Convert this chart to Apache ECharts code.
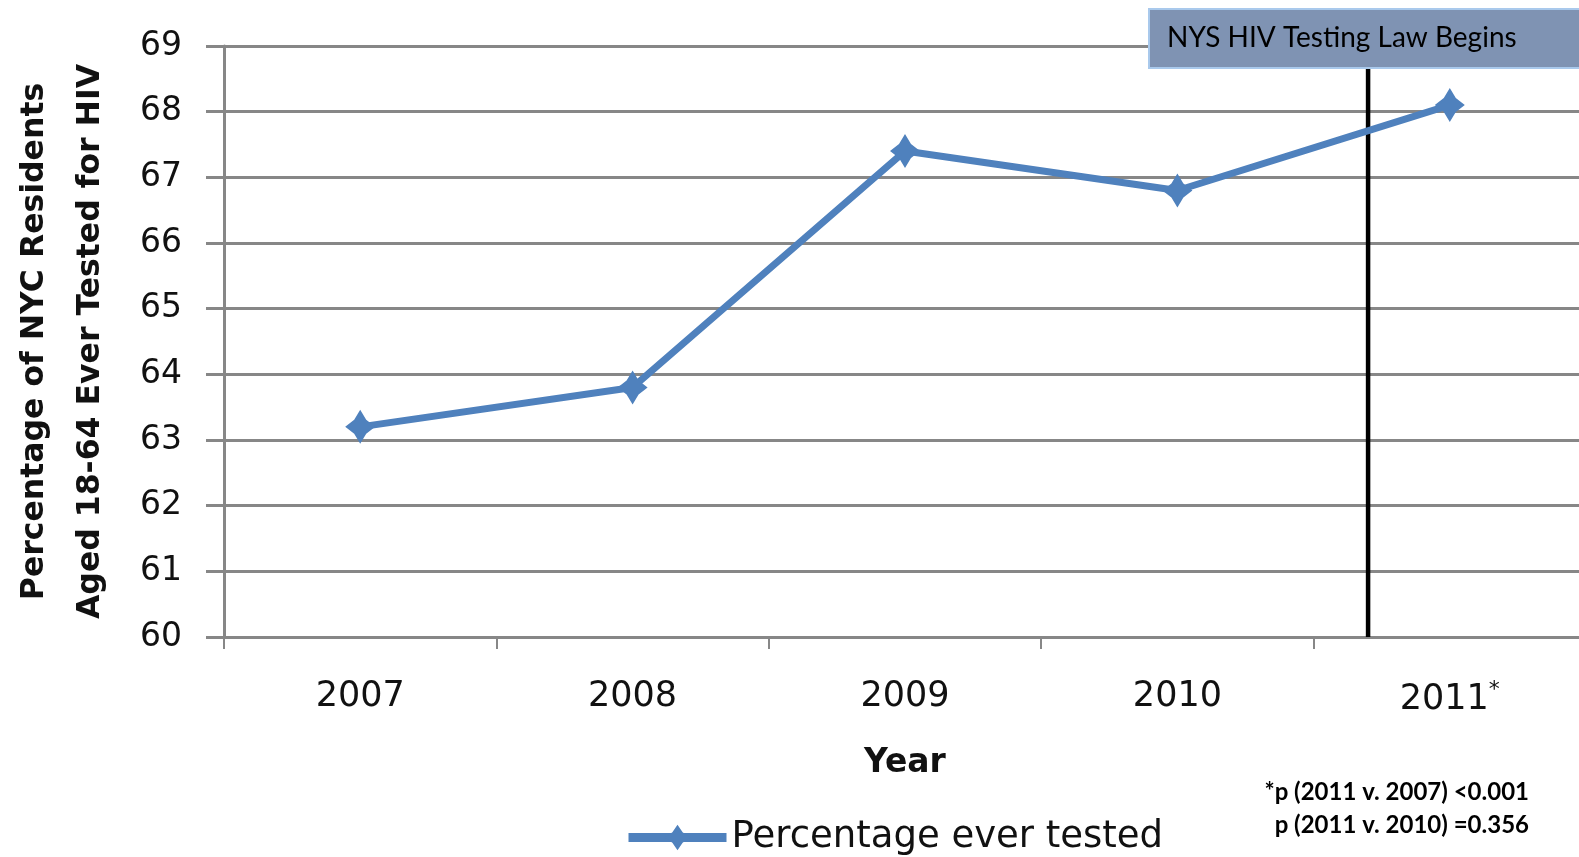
<!DOCTYPE html>
<html>
<head>
<meta charset="utf-8">
<script src="https://cdn.jsdelivr.net/npm/echarts@6/dist/echarts.min.js"></script>
<style>
  html, body { margin: 0; padding: 0; background: #fff; }
  #chart { width: 1579px; height: 857px; }
</style>
</head>
<body>
<div id="chart"></div>
<script>
// Survey years and share of adults ever tested for HIV
const years = ['2007', '2008', '2009', '2010', '2011'];
const everTested = [63.2, 63.8, 67.4, 66.8, 68.1];
const yTicks = [60, 61, 62, 63, 64, 65, 66, 67, 68, 69];
// Where the testing law starts, in category-index units (2007 = 0)
const lawStartPos = 3.7;
const footnotes = ['*p (2011 v. 2007) <0.001', 'p (2011 v. 2010) =0.356'];

const gridColor = '#878787';
const lineBlue = '#4f81bd';
// Four-point marker with a fat body
const starPath = 'path://M0,-17 L6,-7 L15,0 L6,7 L0,17 L-6,7 L-15,0 L-6,-7 Z';

const chart = echarts.init(document.getElementById('chart'), null, { renderer: 'canvas' });

chart.setOption({
  animation: false,
  backgroundColor: '#ffffff',
  grid: { left: 224, top: 46, width: 1362, height: 591, containLabel: false, outerBoundsMode: 'none' },
  xAxis: [
    {
      type: 'category',
      data: years,
      boundaryGap: true,
      axisLine: { show: true, onZero: false, lineStyle: { color: gridColor, width: 3 } },
      axisTick: { show: true, interval: 0, length: 12, lineStyle: { color: gridColor, width: 2 } },
      axisLabel: {
        interval: 0,
        hideOverlap: false,
        margin: 42,
        fontFamily: 'DejaVu Sans',
        fontSize: 35,
        color: '#111',
        formatter: v => v === '2011' ? v + '{sup|*}' : v,
        rich: {
          sup: { fontFamily: 'DejaVu Sans', fontSize: 22, color: '#111', verticalAlign: 'top', padding: [0, 0, 20, 0] }
        }
      },
      name: 'Year',
      nameLocation: 'middle',
      nameGap: 110,
      nameTextStyle: { fontFamily: 'DejaVu Sans', fontWeight: 'bold', fontSize: 33, color: '#111' }
    },
    {
      type: 'value',
      min: -0.5,
      max: 4.5,
      show: false,
      axisLine: { show: false, onZero: false },
      splitLine: { show: false }
    }
  ],
  yAxis: {
    type: 'value',
    min: yTicks[0],
    max: yTicks[yTicks.length - 1],
    interval: 1,
    axisLine: { show: true, onZero: false, lineStyle: { color: gridColor, width: 3 } },
    axisTick: { show: true, length: 18, lineStyle: { color: gridColor, width: 3 } },
    splitLine: { show: true, lineStyle: { color: gridColor, width: 3 } },
    axisLabel: { margin: 42, fontFamily: 'DejaVu Sans', fontSize: 33, color: '#111' },
    name: 'Percentage of NYC Residents\nAged 18-64 Ever Tested for HIV',
    nameLocation: 'middle',
    nameRotate: 90,
    nameGap: 105,
    nameTextStyle: { fontFamily: 'DejaVu Sans', fontWeight: 'bold', fontSize: 31.5, color: '#111', lineHeight: 56 }
  },
  legend: {
    data: ['Percentage ever tested'],
    left: 619,
    top: 814,
    itemWidth: 98,
    itemHeight: 32,
    itemGap: 8,
    lineStyle: { width: 9 },
    textStyle: { fontFamily: 'DejaVu Sans', fontSize: 37, color: '#111' }
  },
  series: [
    {
      name: 'Percentage ever tested',
      type: 'line',
      data: everTested,
      symbol: starPath,
      symbolSize: [30, 34],
      lineStyle: { color: lineBlue, width: 7 },
      itemStyle: { color: lineBlue },
      z: 3
    },
    {
      name: 'law',
      type: 'line',
      xAxisIndex: 1,
      data: [[lawStartPos, yTicks[0]], [lawStartPos, yTicks[yTicks.length - 1]]],
      symbol: 'none',
      silent: true,
      lineStyle: { color: '#000', width: 4.5 },
      z: 2
    }
  ],
  graphic: [
    {
      type: 'rect',
      left: 1148,
      top: 8,
      z: 100,
      zlevel: 1,
      shape: { x: 0, y: 0, width: 440, height: 59 },
      style: { fill: '#7f93b3', stroke: '#a9c9ec', lineWidth: 2 }
    },
    {
      type: 'text',
      left: 1167,
      top: 24,
      z: 101,
      zlevel: 1,
      style: {
        text: 'NYS HIV Testing Law Begins',
        fontFamily: 'Lato',
        fontSize: 28,
        fill: '#000'
      }
    },
    ...footnotes.map((line, i) => ({
      type: 'text',
      right: 50,
      top: 780 + i * 33,
      z: 100,
      style: {
        text: line,
        fontFamily: 'Lato',
        fontWeight: 'bold',
        fontSize: 24,
        fill: '#000'
      }
    }))
  ]
});
</script>
</body>
</html>
